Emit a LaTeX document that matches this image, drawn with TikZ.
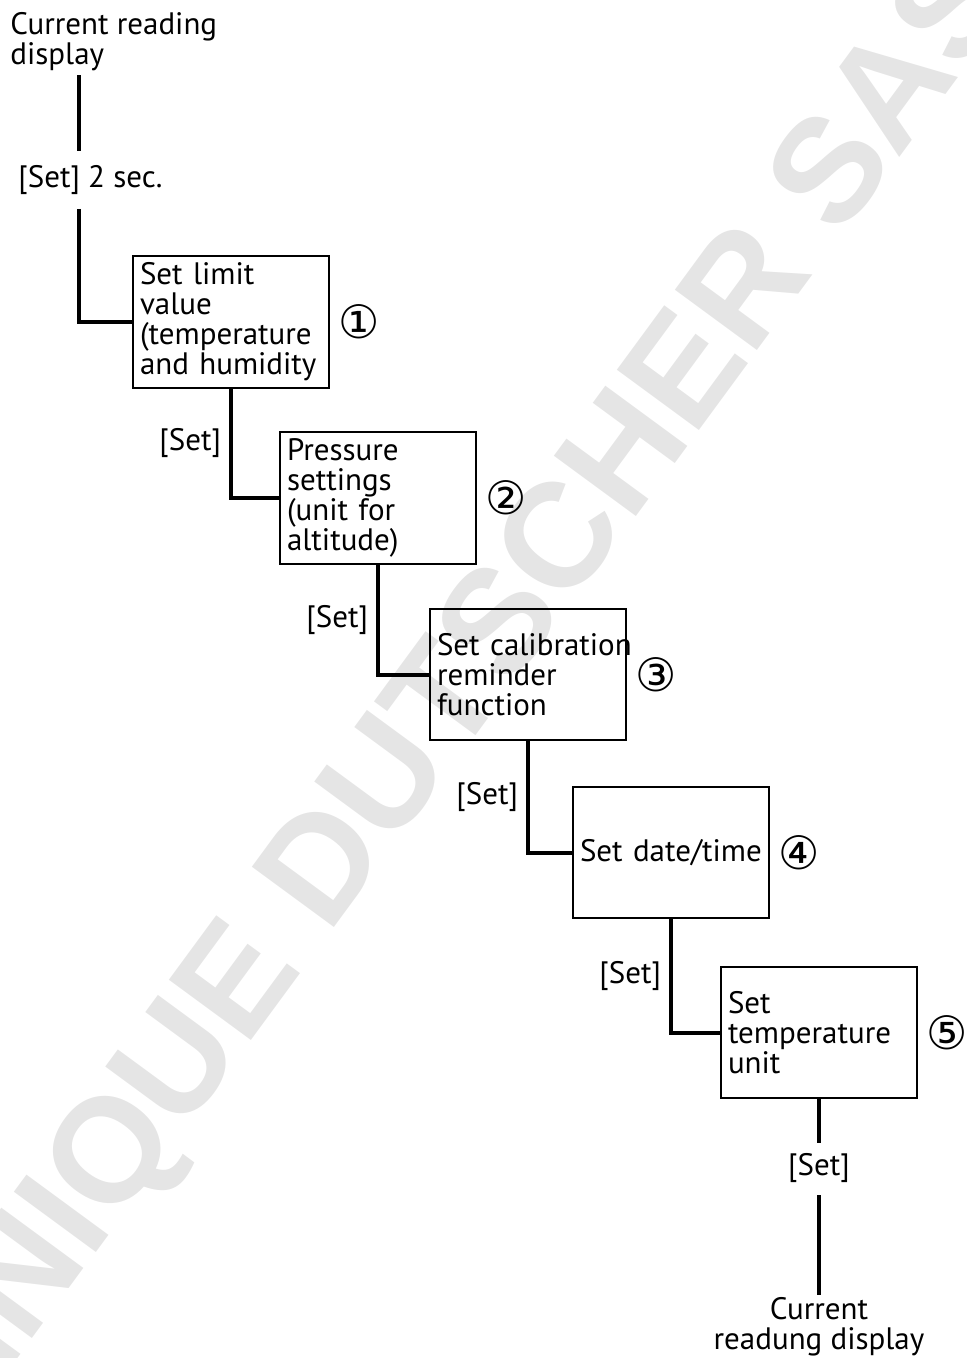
\documentclass[tikz,border=0pt]{standalone}
\usepackage{fontspec}
\setmainfont{PT Sans}
\newfontfamily\symfont{DejaVu Sans}
\newfontfamily\markfont{Liberation Sans}
\usetikzlibrary{positioning,calc}

\tikzset{
  menubox/.style={draw, line width=1pt, anchor=north west, minimum width=98pt,
    minimum height=65.5pt, text width=91pt, inner xsep=3.5pt, align=left},
  link/.style={line width=2pt},
  setlbl/.style={left, inner sep=4pt},
  numlbl/.style={right=4pt of #1, inner sep=0pt, font=\symfont\fontsize{23}{23}\selectfont},
}

\begin{document}
\begin{tikzpicture}[x=0.5pt,y=-0.5pt,font=\fontsize{15.5}{15}\selectfont]
  \useasboundingbox (0,0) rectangle (967,1358);
  % watermark
  \begin{scope}
    \clip (0,0) rectangle (967,1358);
    \node[rotate=53.7, text=black!10, font=\markfont\bfseries\fontsize{74}{74}\selectfont] (mark) at (379,804) {DOMINIQUE DUTSCHER SAS};
  \end{scope}

  % start
  \node[anchor=north west, align=left, inner sep=0pt] (cur) at (10,12) {Current reading\\display};
  \node[anchor=west, inner sep=0pt] (sec) at (18,180) {[Set] 2 sec.};
  \coordinate (trunk) at (79,0);

  % menu steps
  \node[menubox] (b1) at (132,255) {Set limit\\value\\(temperature\\and humidity};
  \node[menubox] (b2) at (279,431) {Pressure\\settings\\(unit for\\altitude)};
  \node[menubox] (b3) at (429,608) {\mbox{Set calibration}\\reminder\\function};
  \node[menubox] (b4) at (572,786) {Set date/time};
  \node[menubox] (b5) at (720,966) {Set\\temperature\\unit};

  \node[numlbl=b1] (n1) {①};
  \node[numlbl=b2] (n2) {②};
  \node[numlbl=b3] (n3) {③};
  \node[numlbl=b4] (n4) {④};
  \node[numlbl=b5] (n5) {⑤};

  % end
  \node[inner sep=0pt] (setend) at (b5.south |- 0,1168) {[Set]};
  \node[anchor=north, align=center, inner sep=0pt] (fin) at (b5.south |- 0,1297) {Current\\readung display};

  % links
  \draw[link] ($(trunk |- cur.south)+(0,4)$) -- ($(trunk |- sec.north)+(0,-14)$);
  \draw[link] ($(trunk |- sec.south)+(0,14)$) |- (b1.west);
  \draw[link] (b1.south) |- node[setlbl, pos=0.25] (s1) {[Set]} (b2.west);
  \draw[link] (b2.south) |- node[setlbl, pos=0.25] (s2) {[Set]} (b3.west);
  \draw[link] (b3.south) |- node[setlbl, pos=0.25] (s3) {[Set]} (b4.west);
  \draw[link] (b4.south) |- node[setlbl, pos=0.25] (s4) {[Set]} (b5.west);
  \draw[link] (b5.south) -- ($(setend.north)+(0,-10)$);
  \draw[link] ($(setend.south)+(0,12)$) -- ($(fin.north)+(0,-2)$);
\end{tikzpicture}
\end{document}
